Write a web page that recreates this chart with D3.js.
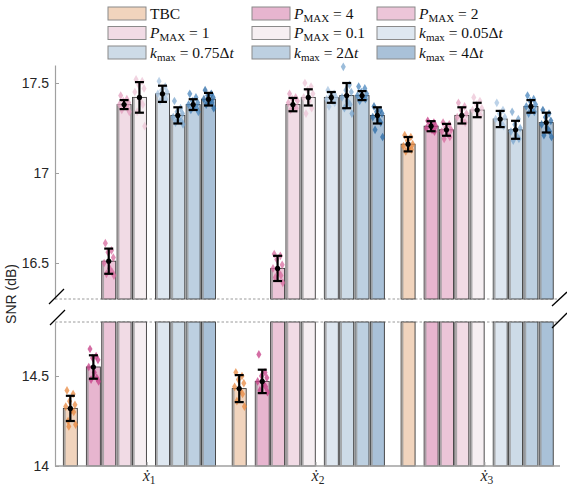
<!DOCTYPE html>
<html>
<head>
<meta charset="utf-8">
<script src="https://cdn.jsdelivr.net/npm/d3@7"></script>
<style>
  body { margin: 0; background: #fff; }
  text { font-family: "Liberation Sans", Arial, sans-serif; }
</style>
</head>
<body>
<script>
// categories
const groupLabels = ['1', '2', '3'];
const seriesNames = ['TBC', 'P4', 'P2', 'P1', 'P01', 'k005', 'k075', 'k2', 'k4'];
const slotPos = [0, 1.5, 2.5, 3.5, 4.5, 6, 7, 8, 9];

// means per group (order = seriesNames)
const meanX1 = [14.32, 14.55, 16.51, 17.38, 17.42, 17.44, 17.32, 17.38, 17.41];
const meanX2 = [14.43, 14.47, 16.47, 17.38, 17.42, 17.42, 17.43, 17.43, 17.32];
const meanX3 = [17.16, 17.26, 17.24, 17.32, 17.35, 17.30, 17.24, 17.37, 17.28];

// half length of error bars
const errX1 = [0.07, 0.065, 0.07, 0.025, 0.085, 0.045, 0.045, 0.03, 0.035];
const errX2 = [0.075, 0.065, 0.07, 0.037, 0.045, 0.03, 0.07, 0.025, 0.045];
const errX3 = [0.04, 0.028, 0.033, 0.045, 0.04, 0.045, 0.05, 0.035, 0.055];

// single runs (scatter)
const runsX1 = [
  [14.42, 14.40, 14.36, 14.34, 14.33, 14.31, 14.30, 14.25, 14.23, 14.22],
  [14.65, 14.61, 14.60, 14.59, 14.55, 14.52, 14.49, 14.48, 14.47],
  [16.61, 16.57, 16.56, 16.53, 16.50, 16.47, 16.45, 16.44, 16.43],
  [17.43, 17.41, 17.40, 17.39, 17.38, 17.37, 17.36, 17.35, 17.34],
  [17.52, 17.51, 17.49, 17.47, 17.45, 17.40, 17.38, 17.34, 17.26],
  [17.51, 17.48, 17.46, 17.45, 17.44, 17.43, 17.41, 17.40],
  [17.40, 17.36, 17.34, 17.33, 17.31, 17.30, 17.29, 17.28, 17.27],
  [17.44, 17.42, 17.40, 17.39, 17.38, 17.37, 17.36, 17.35, 17.34],
  [17.46, 17.44, 17.43, 17.42, 17.41, 17.40, 17.39, 17.38, 17.36]
];
const runsX2 = [
  [14.52, 14.50, 14.48, 14.46, 14.44, 14.42, 14.40, 14.36, 14.33],
  [14.62, 14.52, 14.50, 14.49, 14.47, 14.46, 14.44, 14.42, 14.41],
  [16.55, 16.54, 16.52, 16.49, 16.47, 16.45, 16.43, 16.42, 16.39],
  [17.44, 17.42, 17.41, 17.40, 17.39, 17.37, 17.36, 17.35],
  [17.50, 17.48, 17.46, 17.44, 17.42, 17.40, 17.36, 17.33],
  [17.46, 17.44, 17.43, 17.42, 17.41, 17.40, 17.39, 17.37],
  [17.59, 17.49, 17.46, 17.45, 17.42, 17.40, 17.38, 17.36, 17.33],
  [17.48, 17.47, 17.45, 17.44, 17.43, 17.42, 17.41, 17.40],
  [17.37, 17.35, 17.34, 17.33, 17.31, 17.30, 17.28, 17.24, 17.20]
];
const runsX3 = [
  [17.21, 17.20, 17.18, 17.16, 17.15, 17.14, 17.13, 17.12],
  [17.29, 17.28, 17.27, 17.26, 17.25, 17.24, 17.23],
  [17.28, 17.27, 17.25, 17.24, 17.23, 17.22, 17.20, 17.19],
  [17.39, 17.37, 17.35, 17.33, 17.31, 17.29, 17.28],
  [17.42, 17.40, 17.38, 17.36, 17.35, 17.33, 17.32],
  [17.39, 17.35, 17.33, 17.31, 17.30, 17.28, 17.26],
  [17.34, 17.30, 17.27, 17.25, 17.23, 17.21, 17.19, 17.18],
  [17.43, 17.41, 17.40, 17.38, 17.37, 17.35, 17.34, 17.33],
  [17.35, 17.33, 17.31, 17.29, 17.27, 17.25, 17.23, 17.21, 17.20]
];
// fixed horizontal spread of the runs (slot units)
const jitter = [-0.22, 0.18, -0.05, 0.3, -0.3, 0.06, 0.22, -0.15, 0.34, -0.1];

const topTicks = [16.5, 17, 17.5];
const botTicks = [14, 14.5];

const barFill = ['#f1d4bd', '#e7b5cf', '#ecc5d8', '#f1dbe5', '#f6eff2',
                 '#dee7f0', '#cddbe7', '#bdd0e1', '#a9c1d8'];
const dotFill = ['#e8883f', '#c63c86', '#d76a9e', '#e39dbe', '#ecc4d5',
                 '#a6c3e0', '#79a5ce', '#4886bd', '#2a69a6'];

const legendItems = [
  {s: 0, sym: '', sub: '', rest: 'TBC'},
  {s: 1, sym: 'P', sub: 'MAX', rest: ' = 4'},
  {s: 2, sym: 'P', sub: 'MAX', rest: ' = 2'},
  {s: 3, sym: 'P', sub: 'MAX', rest: ' = 1'},
  {s: 4, sym: 'P', sub: 'MAX', rest: ' = 0.1'},
  {s: 5, sym: 'k', sub: 'max', rest: ' = 0.05Δ'},
  {s: 6, sym: 'k', sub: 'max', rest: ' = 0.75Δ'},
  {s: 7, sym: 'k', sub: 'max', rest: ' = 2Δ'},
  {s: 8, sym: 'k', sub: 'max', rest: ' = 4Δ'}
];

const W = 567, H = 487;
const left = 55, right = 557;
const svg = d3.select('body').append('svg')
    .attr('width', W)
    .attr('height', H);

const x = d3.scaleLinear().domain([-1, 31.7]).range([left, right]);
const yTop = d3.scaleLinear().domain([16.3, 17.6]).range([299, 65]);
const yBot = d3.scaleLinear().domain([14, 14.8]).range([466, 322]);
const barW = x(0.91) - x(0);

const means = [meanX1, meanX2, meanX3];
const errs = [errX1, errX2, errX3];
const runs = [runsX1, runsX2, runsX3];

let bars = [];
means.forEach((m, g) => {
  m.forEach((v, s) => {
    bars.push({g, s, v, e: errs[g][s], runs: runs[g][s], u: g * 11 + slotPos[s]});
  });
});

// pick panel scale for a value
const yOf = v => v >= 16.3 ? yTop(v) : yBot(v);

// dashed break lines
[yTop(16.3), yBot(14.8)].forEach(yy => {
  svg.append('line')
      .attr('x1', left).attr('x2', right)
      .attr('y1', yy).attr('y2', yy)
      .attr('stroke', '#9a9a9a')
      .attr('stroke-width', 1)
      .attr('stroke-dasharray', '2.5,2');
});

// bars: bottom part + top part
const barG = svg.append('g');
bars.forEach(b => {
  const x0 = x(b.u) - barW / 2;
  let segs = [];
  if (b.v > 14.8) {
    segs.push([yBot(14.8), yBot(14)]);
    segs.push([yTop(b.v), yTop(16.3)]);
  } else {
    segs.push([yBot(b.v), yBot(14)]);
  }
  segs.forEach(([y0, y1]) => {
    barG.append('rect')
        .attr('x', x0).attr('y', y0)
        .attr('width', barW).attr('height', y1 - y0)
        .attr('fill', barFill[b.s])
        .attr('stroke', '#3a3a3a')
        .attr('stroke-width', 0.9);
    barG.append('rect')
        .attr('x', x0 + 0.5).attr('y', y0 + 0.5)
        .attr('width', 1.8).attr('height', Math.max(0, y1 - y0 - 1))
        .attr('fill', '#9a9a9a')
        .attr('opacity', 0.8);
  });
});

// single runs
const diamond = d3.symbol().type(d3.symbolDiamond).size(22);
const dotG = svg.append('g');
bars.forEach(b => {
  b.runs.forEach((r, i) => {
    dotG.append('path')
        .attr('d', diamond)
        .attr('transform', `translate(${x(b.u + jitter[i % jitter.length])},${yOf(r)})`)
        .attr('fill', dotFill[b.s])
        .attr('opacity', 0.75);
  });
});

// error bars
const errG = svg.append('g');
bars.forEach(b => {
  const cx = x(b.u);
  const y1 = yOf(b.v + b.e), y2 = yOf(b.v - b.e);
  errG.append('line')
      .attr('x1', cx).attr('x2', cx).attr('y1', y1).attr('y2', y2)
      .attr('stroke', '#000').attr('stroke-width', 2.2);
  [y1, y2].forEach(yy => {
    errG.append('line')
        .attr('x1', cx - 4.5).attr('x2', cx + 4.5).attr('y1', yy).attr('y2', yy)
        .attr('stroke', '#000').attr('stroke-width', 2.2);
  });
  errG.append('circle')
      .attr('cx', cx).attr('cy', yOf(b.v)).attr('r', 2.6)
      .attr('fill', '#000');
});

// y axes
function styleAxis(g) {
  g.select('.domain').attr('stroke', '#a0a0a0').attr('stroke-width', 1.2);
  g.selectAll('.tick line').attr('stroke', '#a0a0a0');
  g.selectAll('.tick text')
      .attr('fill', '#262626')
      .style('font-size', '14px')
      .style('font-family', '"Liberation Sans", Arial, sans-serif');
}
svg.append('g')
    .attr('transform', `translate(${left},0)`)
    .call(d3.axisLeft(yTop).tickValues(topTicks).tickFormat(d3.format(''))
      .tickSizeInner(-4).tickSizeOuter(0).tickPadding(6))
    .call(styleAxis);
svg.append('g')
    .attr('transform', `translate(${left},0)`)
    .call(d3.axisLeft(yBot).tickValues(botTicks).tickFormat(d3.format(''))
      .tickSizeInner(-4).tickSizeOuter(0).tickPadding(6))
    .call(styleAxis);

// x axis baseline
svg.append('line')
    .attr('x1', left).attr('x2', right + 3)
    .attr('y1', yBot(14)).attr('y2', yBot(14))
    .attr('stroke', '#a0a0a0').attr('stroke-width', 1.4);

// group labels
groupLabels.forEach((lab, g) => {
  const cx = x(g * 11 + 5);
  svg.append('line')
      .attr('x1', cx).attr('x2', cx)
      .attr('y1', yBot(14)).attr('y2', yBot(14) - 4)
      .attr('stroke', '#a0a0a0');
  const t = svg.append('text')
      .attr('x', cx + 2).attr('y', 481)
      .attr('text-anchor', 'middle')
      .style('font-family', '"Liberation Serif", "DejaVu Serif", serif')
      .style('font-size', '16px')
      .attr('fill', '#262626');
  t.append('tspan').style('font-style', 'italic').text('ẋ');
  t.append('tspan').attr('dy', 2.5).style('font-size', '11.5px').text(lab);
});

// y label
svg.append('text')
    .attr('transform', 'translate(16,294) rotate(-90)')
    .attr('text-anchor', 'middle')
    .attr('fill', '#262626')
    .style('font-size', '14px')
    .text('SNR (dB)');

// axis break marks
const breaks = [[49, 304, 64, 289], [50, 325, 65, 310], [552, 306, 567, 292], [552, 328, 567, 313]];
breaks.forEach(d => {
  svg.append('line')
      .attr('x1', d[0]).attr('y1', d[1]).attr('x2', d[2]).attr('y2', d[3])
      .attr('stroke', '#000').attr('stroke-width', 1.3);
});

// legend
const colX = [108, 252, 377];
const rowY = [7, 26.5, 46];
const leg = svg.append('g');
legendItems.forEach((it, i) => {
  const cx = colX[i % 3], ry = rowY[Math.floor(i / 3)];
  leg.append('rect')
      .attr('x', cx).attr('y', ry)
      .attr('width', 38).attr('height', 13)
      .attr('fill', barFill[it.s])
      .attr('stroke', '#8a8a8a').attr('stroke-width', 1);
  const t = leg.append('text')
      .attr('x', cx + 42).attr('y', ry + 11.5)
      .attr('fill', '#111')
      .style('font-family', '"Liberation Serif", "DejaVu Serif", serif')
      .style('font-size', '15.5px');
  if (it.sym) {
    t.append('tspan').style('font-style', 'italic').text(it.sym);
    t.append('tspan').attr('dy', 3).style('font-size', '11px').text(it.sub);
    t.append('tspan').attr('dy', -3).text(it.rest);
    if (it.sym === 'k') t.append('tspan').style('font-style', 'italic').text('t');
  } else {
    t.text(it.rest);
  }
});
</script>
</body>
</html>
